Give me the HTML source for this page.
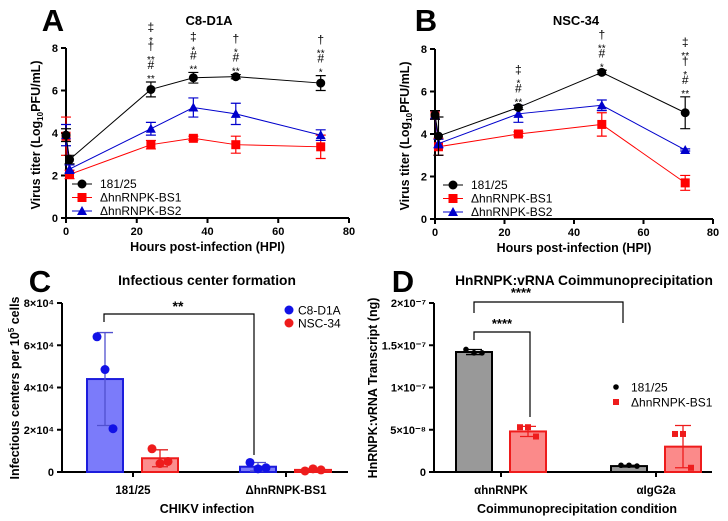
<!DOCTYPE html>
<html><head><meta charset="utf-8"><style>
html,body{margin:0;padding:0;background:#fff}
svg{display:block;font-family:"Liberation Sans",Arial,sans-serif}
</style></head><body>
<svg id="fig" width="728" height="521" viewBox="0 0 728 521" xmlns="http://www.w3.org/2000/svg"></svg>
<script>
// ---- Panel A data (C8-D1A) ----
const hoursA = [0, 1, 24, 36, 48, 72];
const wtA = [3.9, 2.75, 6.05, 6.6, 6.65, 6.35];
const wtErrA = [0.3, 0.2, 0.35, 0.25, 0.1, 0.35];
const bs1A = [3.85, 2.05, 3.45, 3.75, 3.45, 3.35];
const bs1ErrA = [0.9, 0.2, 0.2, 0.1, 0.4, 0.55];
const bs2A = [3.9, 2.3, 4.2, 5.2, 4.9, 3.9];
const bs2ErrA = [0.5, 0.2, 0.3, 0.45, 0.5, 0.25];
const annotA = [[], [], ['‡','*','†','**','#','**'], ['‡','*','#','**'], ['†','*','#','**'], ['†','**','#','*']];
// ---- Panel B data (NSC-34) ----
const hoursB = [0, 1, 24, 48, 72];
const wtB = [4.9, 3.9, 5.25, 6.9, 5.0];
const wtErrB = [0.2, 0.9, 0.1, 0.1, 0.75];
const bs1B = [4.9, 3.4, 4.0, 4.45, 1.7];
const bs1ErrB = [0.2, 0.4, 0.1, 0.55, 0.35];
const bs2B = [4.9, 3.55, 4.95, 5.35, 3.25];
const bs2ErrB = [0.2, 0.2, 0.4, 0.25, 0.05];
const annotB = [[], [], ['‡','*','#','**'], ['†','**','#','*'], ['‡','**','†','*','#','**']];
const xTicksAB = [0, 20, 40, 60, 80];
const yTicksAB = [0, 2, 4, 6, 8];
// ---- Panel C data ----
const groupsC = ['181/25', 'ΔhnRNPK-BS1'];
const c8Mean = [44000, 2500];
const c8Pts = [[64000, 48500, 20500], [4500, 1500, 2000]];
const c8Err = [22000, 2000];
const nscMean = [6500, 1000];
const nscPts = [[11000, 4000, 5000], [500, 1500, 1000]];
const nscErr = [4000, 500];
const yTicksC = [0, 2, 4, 6, 8];
// ---- Panel D data ----
const groupsD = ['αhnRNPK', 'αIgG2a'];
const wtMeanD = [1.42, 0.07];
const wtPtsD = [[1.45, 1.41, 1.41], [0.08, 0.08, 0.07]];
const wtErrD = [0.03, 0.01];
const bsMeanD = [0.48, 0.30];
const bsPtsD = [[0.53, 0.53, 0.42], [0.45, 0.45, 0.05]];
const bsErrD = [0.06, 0.25];
const yTicksD = ['0', '5×10⁻⁸', '1×10⁻⁷', '1.5×10⁻⁷', '2×10⁻⁷'];
const yTickValsD = [0, 0.5, 1, 1.5, 2];

const NS = 'http://www.w3.org/2000/svg';
const svg = document.getElementById('fig');
function el(tag, attrs, parent, text) {
  const e = document.createElementNS(NS, tag);
  for (const k in attrs) e.setAttribute(k, attrs[k]);
  if (text !== undefined) e.textContent = text;
  (parent || svg).appendChild(e);
  return e;
}
function txt(x, y, s, size, opts, parent) {
  const a = Object.assign({x: x, y: y, 'font-size': size, 'font-weight': 'bold', 'text-anchor': 'middle', fill: '#000'}, opts || {});
  return el('text', a, parent, s);
}

function marker(g, type, x, y, color) {
  let m;
  if (type === 'circle') m = el('circle', {cx: x, cy: y, r: 4.5, fill: color}, g);
  else if (type === 'square') m = el('rect', {x: x - 4.5, y: y - 4.5, width: 9, height: 9, fill: color}, g);
  else m = el('polygon', {points: `${x},${y-5} ${x+5},${y+4} ${x-5},${y+4}`, fill: color}, g);
  return m;
}

function linePanel(cfg) {
  const g = el('g', {});
  
  
  const sx = v => cfg.x0 + (v / 80) * (cfg.x1 - cfg.x0);
  const sy = v => cfg.y0 - (v / 8) * (cfg.y0 - cfg.y1);
  const letter = txt(cfg.lx, cfg.ly, cfg.letter, 31, {}, g);
  
  
  const title = txt(cfg.tx, 25, cfg.title, 13, {}, g);
  
  
  const ax = el('path', {d: `M${cfg.x0},${cfg.y1} V${cfg.y0} H${cfg.x1}`, stroke: '#000', 'stroke-width': 2, fill: 'none'}, g);
  
  
  yTicksAB.forEach(t => {
    el('line', {x1: cfg.x0 - 5, x2: cfg.x0, y1: sy(t), y2: sy(t), stroke: '#000', 'stroke-width': 2}, g);
    const l = txt(cfg.x0 - 8, sy(t) + 4, String(t), 11, {'text-anchor': 'end'}, g);
    
    
  });
  xTicksAB.forEach(t => {
    el('line', {x1: sx(t), x2: sx(t), y1: cfg.y0, y2: cfg.y0 + 5, stroke: '#000', 'stroke-width': 2}, g);
    const l = txt(sx(t), cfg.y0 + 17, String(t), 11, {}, g);
    
    
  });
  const xt = txt((cfg.x0 + cfg.x1) / 2, cfg.y0 + 33, 'Hours post-infection (HPI)', 12.5, {}, g);
  
  
  const ycx = cfg.x0 - 26, ycy = (cfg.y0 + cfg.y1) / 2 + 2;
  const yt = el('text', {x: ycx, y: ycy, 'font-size': 12.5, 'font-weight': 'bold', 'text-anchor': 'middle', transform: `rotate(-90 ${ycx} ${ycy})`}, g);
  
  
  el('tspan', {}, yt, 'Virus titer (Log');
  el('tspan', {'font-size': 8, dy: 3}, yt, '10');
  el('tspan', {dy: -3}, yt, 'PFU/mL)');
  const series = [
    {vals: cfg.bs1, err: cfg.bs1Err, color: '#ff0000', m: 'square', name: 'series-bs1'},
    {vals: cfg.bs2, err: cfg.bs2Err, color: '#0000cc', m: 'triangle', name: 'series-bs2'},
    {vals: cfg.wt, err: cfg.wtErr, color: '#000000', m: 'circle', name: 'series-181-25'}
  ];
  series.forEach(s => {
    const sg = el('g', {}, g);
    
    
    const pts = cfg.hours.map((h, i) => `${sx(h)},${sy(s.vals[i])}`).join(' ');
    el('polyline', {points: pts, fill: 'none', stroke: s.color, 'stroke-width': 1}, sg);
    cfg.hours.forEach((h, i) => {
      const x = sx(h), y1 = sy(s.vals[i] + s.err[i]), y2 = sy(s.vals[i] - s.err[i]);
      el('path', {d: `M${x},${y1} V${y2} M${x-5},${y1} H${x+5} M${x-5},${y2} H${x+5}`, stroke: s.color, 'stroke-width': 1.2, fill: 'none'}, sg);
      const m = marker(sg, s.m, x, sy(s.vals[i]), s.color);
      
      
    });
  });
  cfg.hours.forEach((h, i) => {
    const a = cfg.annot[i];
    let y = sy(cfg.wt[i] + cfg.wtErr[i]) - 5;
    for (let k = a.length - 1; k >= 0; k--) {
      const s = a[k];
      const isStar = s.indexOf('*') >= 0;
      const t = txt(sx(h), isStar ? y + 5 : y, s, isStar ? 10 : 12, {'font-weight': 'normal'}, g);
      
      
      y -= isStar ? 8 : 11;
    }
  });
  const lg = el('g', {}, g);
  
  
  const names = ['181/25', 'ΔhnRNPK-BS1', 'ΔhnRNPK-BS2'];
  const cols = ['#000', '#ff0000', '#0000cc'];
  const ms = ['circle', 'square', 'triangle'];
  names.forEach((n, k) => {
    const y = cfg.legY + k * 13.5;
    el('line', {x1: cfg.legX - 10, x2: cfg.legX + 10, y1: y, y2: y, stroke: cols[k], 'stroke-width': 1}, lg);
    marker(lg, ms[k], cfg.legX, y, cols[k]);
    const t = txt(cfg.legX + 18, y + 4.2, n, 12, {'text-anchor': 'start', 'font-weight': 'normal'}, lg);
    
    
  });
}

linePanel({name: 'panel-a', letter: 'A', lx: 53, ly: 31, title: 'C8-D1A', tx: 209, x0: 66, x1: 349, y0: 218, y1: 48,
  hours: hoursA, wt: wtA, wtErr: wtErrA, bs1: bs1A, bs1Err: bs1ErrA, bs2: bs2A, bs2Err: bs2ErrA, annot: annotA, legX: 82, legY: 184});
linePanel({name: 'panel-b', letter: 'B', lx: 426, ly: 31, title: 'NSC-34', tx: 576, x0: 435, x1: 713, y0: 219, y1: 49,
  hours: hoursB, wt: wtB, wtErr: wtErrB, bs1: bs1B, bs1Err: bs1ErrB, bs2: bs2B, bs2Err: bs2ErrB, annot: annotB, legX: 453, legY: 185});

function barPanel(cfg) {
  const g = el('g', {});
  
  
  const sy = v => cfg.y0 - (v / cfg.ymax) * (cfg.y0 - cfg.y1);
  const l = txt(cfg.lx, 292, cfg.letter, 31, {}, g);
  
  
  const t = txt(cfg.tx, 285, cfg.title, 13.8, {}, g);
  
  
  const ax = el('path', {d: `M${cfg.x0},${cfg.y1} V${cfg.y0} H${cfg.x1}`, stroke: '#000', 'stroke-width': 2, fill: 'none'}, g);
  
  
  cfg.yTickVals.forEach((v, k) => {
    el('line', {x1: cfg.x0 - 5, x2: cfg.x0, y1: sy(v), y2: sy(v), stroke: '#000', 'stroke-width': 2}, g);
    const tl = txt(cfg.x0 - 8, sy(v) + 4, cfg.yTickLabels[k], 11, {'text-anchor': 'end'}, g);
    
    
  });
  cfg.groups.forEach((gname, i) => {
    const cx = cfg.gx[i];
    el('line', {x1: cx, x2: cx, y1: cfg.y0, y2: cfg.y0 + 5, stroke: '#000', 'stroke-width': 2}, g);
    const tl = txt(cx, 494, gname, 11.5, {}, g);
    
    
    cfg.series.forEach((s, j) => {
      const bx = cx + s.off, w = cfg.bw;
      const top = sy(s.mean[i]);
      const b = el('rect', {x: bx - w / 2, y: top, width: w, height: cfg.y0 - top, fill: s.fill, stroke: s.stroke, 'stroke-width': 2}, g);
      
      
      const e1 = sy(s.mean[i] + s.err[i]), e2 = sy(Math.max(0, s.mean[i] - s.err[i]));
      el('path', {d: `M${bx},${e1} V${e2} M${bx-8},${e1} H${bx+8} M${bx-8},${e2} H${bx+8}`, stroke: s.errColor, 'stroke-width': 1.3, fill: 'none'}, g);
      s.pts[i].forEach((p, k) => {
        const px = bx + (k - 1) * 8;
        let m;
        if (s.mk === 'square') m = el('rect', {x: px - 3, y: sy(p) - 3, width: 6, height: 6, fill: s.dot}, g);
        else m = el('circle', {cx: px, cy: sy(p), r: s.r, fill: s.dot}, g);
        
        
      });
    });
  });
  const xt = txt(cfg.xtx, 513, cfg.xtitle, 12.5, {}, g);
  
  
  const ycy = 388;
  const yt = el('text', {x: cfg.ytx, y: ycy, 'font-size': 12.5, 'font-weight': 'bold', 'text-anchor': 'middle', transform: `rotate(-90 ${cfg.ytx} ${ycy})`}, g);
  
  
  cfg.ytitle(yt);
  return {g: g, sy: sy};
}

// Panel C
const C = barPanel({name: 'panel-c', letter: 'C', lx: 40, title: 'Infectious center formation', tx: 207, x0: 62, x1: 348, y0: 472, y1: 303, ymax: 80000,
  yTickVals: yTicksC.map(v => v * 10000), yTickLabels: yTicksC.map(v => v === 0 ? '0' : v + '×10⁴'),
  groups: groupsC, gx: [133, 286], bw: 36, xtitle: 'CHIKV infection', xtx: 207, ytx: 19,
  ytitle: yt => { el('tspan', {}, yt, 'Infectious centers per 10'); el('tspan', {'font-size': 8, dy: -5}, yt, '5'); el('tspan', {dy: 5}, yt, ' cells'); },
  series: [
    {key: 'c8-d1a', off: -28, mean: c8Mean, pts: c8Pts, err: c8Err, fill: '#7b7bfa', stroke: '#1c1cdc', errColor: '#5050d0', dot: '#1212e6', r: 4.5},
    {key: 'nsc-34', off: 27, mean: nscMean, pts: nscPts, err: nscErr, fill: '#fb8e8e', stroke: '#ee1c1c', errColor: '#e02020', dot: '#ee1c1c', r: 4.5}
  ]});
{
  const g = C.g;
  const br = el('path', {d: `M104,322 V314 H254 V455`, stroke: '#000', 'stroke-width': 1.2, fill: 'none'}, g);
  
  
  const s = txt(178, 311, '**', 14, {}, g);
  
  
  ['C8-D1A', 'NSC-34'].forEach((n, k) => {
    el('circle', {cx: 289, cy: 310 + k * 13, r: 4.5, fill: k ? '#ee1c1c' : '#1212e6'}, g);
    const t = txt(298, 314.5 + k * 13, n, 12, {'text-anchor': 'start', 'font-weight': 'normal'}, g);
    
    
  });
}

// Panel D
const D = barPanel({name: 'panel-d', letter: 'D', lx: 403, title: 'HnRNPK:vRNA Coimmunoprecipitation', tx: 584, x0: 434, x1: 712, y0: 472, y1: 303, ymax: 2,
  yTickVals: yTickValsD, yTickLabels: yTicksD,
  groups: groupsD, gx: [501, 656], bw: 36, xtitle: 'Coimmunoprecipitation condition', xtx: 577, ytx: 377,
  ytitle: yt => { el('tspan', {}, yt, 'HnRNPK:vRNA Transcript (ng)'); },
  series: [
    {key: '181-25', off: -27, mean: wtMeanD, pts: wtPtsD, err: wtErrD, fill: '#999999', stroke: '#000', errColor: '#000', dot: '#000', r: 2.8},
    {key: 'bs1', off: 27, mean: bsMeanD, pts: bsPtsD, err: bsErrD, fill: '#fb8a8a', stroke: '#ee1c1c', errColor: '#ee1c1c', dot: '#ee1c1c', mk: 'square'}
  ]});
{
  const g = D.g;
  const b1 = el('path', {d: `M474,313 V302 H623 V323`, stroke: '#000', 'stroke-width': 1.2, fill: 'none'}, g);
  
  
  const b2 = el('path', {d: `M474,340 V332 H530 V417`, stroke: '#000', 'stroke-width': 1.2, fill: 'none'}, g);
  
  
  const s1 = txt(521, 297, '****', 13, {}, g);
  
  
  const s2 = txt(502, 328, '****', 13, {}, g);
  
  
  el('circle', {cx: 616, cy: 387, r: 2.8, fill: '#000'}, g);
  el('rect', {x: 613, y: 399, width: 6, height: 6, fill: '#ee1c1c'}, g);
  const t1 = txt(631, 391.5, '181/25', 12, {'text-anchor': 'start', 'font-weight': 'normal'}, g);
  
  
  const t2 = txt(631, 406.5, 'ΔhnRNPK-BS1', 12, {'text-anchor': 'start', 'font-weight': 'normal'}, g);
  
  
}
</script>
</body></html>
